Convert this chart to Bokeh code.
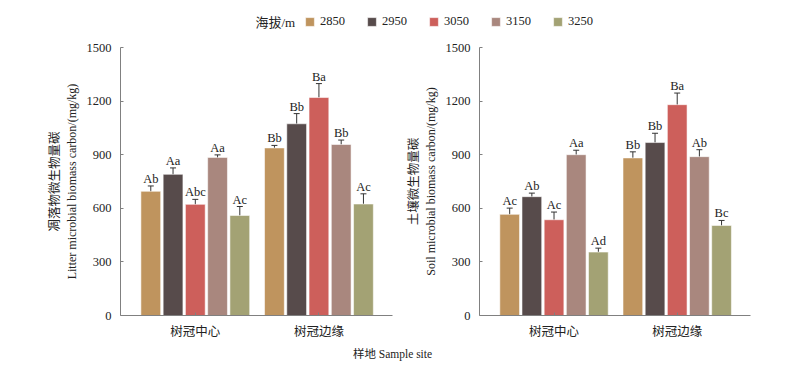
from bokeh.plotting import figure
from bokeh.models import (ColumnDataSource, Range1d, FixedTicker, Whisker, TeeHead,
                          Legend, LegendItem, Label, LinearAxis)
from bokeh.layouts import column, row
from bokeh.core.properties import value
from bokeh.embed import file_html
from bokeh.resources import INLINE

# ---------------- data ----------------
sites = ["树冠中心", "树冠边缘"]
altitudes = ["2850", "2950", "3050", "3150", "3250"]
colors = ["#BF945E", "#574B4B", "#CD5F5B", "#A9877E", "#A3A274"]

litter_center = [695, 790, 622, 885, 560]
litter_center_err = [30, 36, 28, 14, 50]
litter_edge = [938, 1073, 1220, 957, 624]
litter_edge_err = [14, 57, 78, 25, 57]
litter_center_sig = ["Ab", "Aa", "Abc", "Aa", "Ac"]
litter_edge_sig = ["Bb", "Bb", "Ba", "Bb", "Ac"]

soil_center = [566, 665, 536, 900, 355]
soil_center_err = [35, 20, 43, 25, 22]
soil_edge = [882, 968, 1180, 889, 504]
soil_edge_err = [34, 52, 65, 39, 28]
soil_center_sig = ["Ac", "Ab", "Ac", "Aa", "Ad"]
soil_edge_sig = ["Bb", "Bb", "Ba", "Ab", "Bc"]

y_ticks = [0, 300, 600, 900, 1200, 1500]

FONT = "Liberation Serif, Noto Sans CJK SC"
TXT = "#222222"
AX = "#808080"

offsets = [-0.36, -0.18, 0.0, 0.18, 0.36]
bar_w = 0.16


def panel(center, center_err, edge, edge_err, csig, esig, ylabel_cn, ylabel_en,
          width, bl, br):
    p = figure(width=width, height=307, output_backend="svg", toolbar_location=None,
               x_range=Range1d(-0.605, 1.595), y_range=Range1d(0, 1500),
               min_border_left=bl, min_border_right=br, min_border_top=11,
               min_border_bottom=28)
    p.outline_line_color = None
    p.grid.visible = False
    p.background_fill_color = None
    p.border_fill_color = None

    for i, alt in enumerate(altitudes):
        xs = [0 + offsets[i], 1 + offsets[i]]
        tops = [center[i], edge[i]]
        errs = [center_err[i], edge_err[i]]
        sig = [csig[i], esig[i]]
        src = ColumnDataSource(dict(x=xs, top=tops,
                                    upper=[t + e for t, e in zip(tops, errs)],
                                    lower=[t - e for t, e in zip(tops, errs)],
                                    sig=sig))
        p.vbar(x="x", top="top", width=bar_w, bottom=0, source=src,
               fill_color=colors[i], line_color="white", line_alpha=0.55, line_width=1)
        w = Whisker(base="x", upper="upper", lower="lower", source=src,
                    line_color="#333333", line_width=1,
                    upper_head=TeeHead(size=6, line_color="#333333", line_width=1),
                    lower_head=TeeHead(size=6, line_color="#333333", line_width=1))
        p.add_layout(w)
        p.text(x="x", y="upper", text="sig", source=src, text_align="center",
               text_baseline="bottom", y_offset=0, text_font=value(FONT),
               text_font_size="12.5px", text_color=TXT)

    ya = p.yaxis[0]
    xa = p.xaxis[0]

    # y axis
    ya.ticker = FixedTicker(ticks=y_ticks)
    ya.minor_tick_line_color = None
    ya.major_tick_in = 3
    ya.major_tick_out = 0
    ya.major_label_standoff = 9
    ya.axis_label = ylabel_en
    ya.axis_label_standoff = 5
    ya.axis_label_text_font = FONT
    ya.axis_label_text_font_size = "12px"
    ya.axis_label_text_font_style = "normal"
    ya.axis_label_text_color = TXT

    # x axis
    xa.ticker = FixedTicker(ticks=[0, 1])
    xa.major_label_overrides = {0: sites[0], 1: sites[1]}
    xa.minor_tick_line_color = None
    xa.major_tick_in = 3
    xa.major_tick_out = 0
    xa.major_label_standoff = 9

    for ax in (xa, ya):
        ax.axis_line_color = AX
        ax.major_tick_line_color = AX
        ax.major_label_text_font = FONT
        ax.major_label_text_font_size = "12.5px"
        ax.major_label_text_color = TXT

    # second (outer) left axis carrying only the Chinese title line
    cn = LinearAxis(ticker=FixedTicker(ticks=[]), axis_line_color=None,
                    major_tick_line_color=None, minor_tick_line_color=None,
                    major_tick_in=0, major_tick_out=0,
                    minor_tick_in=0, minor_tick_out=0,
                    major_label_standoff=0, major_label_text_font_size="0px",
                    axis_label=ylabel_cn, axis_label_standoff=0,
                    axis_label_text_font=FONT, axis_label_text_font_size="12.5px",
                    axis_label_text_font_style="normal", axis_label_text_color=TXT)
    p.add_layout(cn, "left")
    return p


left = panel(litter_center, litter_center_err, litter_edge, litter_edge_err,
             litter_center_sig, litter_edge_sig,
             "凋落物微生物量碳", "Litter microbial biomass carbon/(mg/kg)", 400, 120, 8)
right = panel(soil_center, soil_center_err, soil_edge, soil_edge_err,
              soil_center_sig, soil_edge_sig,
              "土壤微生物量碳", "Soil microbial biomass carbon/(mg/kg)", 400, 79, 50)

# ---------------- legend strip ----------------
top = figure(width=800, height=36, output_backend="svg", toolbar_location=None,
             x_range=Range1d(0, 1), y_range=Range1d(0, 1),
             min_border_left=0, min_border_right=0, min_border_top=0, min_border_bottom=0)
top.axis.visible = False
top.grid.visible = False
top.outline_line_color = None
items = []
for i, alt in enumerate(altitudes):
    r = top.vbar(x=[5], top=[0], width=0.1, fill_color=colors[i], line_color="white",
                 line_alpha=0.55)
    items.append(LegendItem(label=alt, renderers=[r]))
leg = Legend(items=items, orientation="horizontal", location=(304, 7),
             glyph_width=11, glyph_height=11, label_standoff=5, spacing=21,
             padding=0, margin=0, border_line_color=None, background_fill_alpha=0,
             label_text_font=FONT, label_text_font_size="12.5px", label_text_color=TXT,
             label_height=14)
top.add_layout(leg, "center")
top.add_layout(Label(x=255, y=14, x_units="screen", y_units="screen", text="海拔/m",
                     text_font=FONT, text_font_size="13px", text_color=TXT,
                     text_baseline="middle", text_align="left"))

# ---------------- x title strip ----------------
bottom = figure(width=800, height=28, output_backend="svg", toolbar_location=None,
                x_range=Range1d(0, 1), y_range=Range1d(0, 1),
                min_border_left=0, min_border_right=0, min_border_top=0, min_border_bottom=0)
bottom.axis.visible = False
bottom.grid.visible = False
bottom.outline_line_color = None
bottom.add_layout(Label(x=392, y=18, x_units="screen", y_units="screen",
                        text="样地 Sample site", text_font=FONT, text_font_size="11.5px",
                        text_color=TXT, text_baseline="middle", text_align="center"))

layout = column(top, row(left, right), bottom)

open("out.html", "w").write(file_html(layout, INLINE))
